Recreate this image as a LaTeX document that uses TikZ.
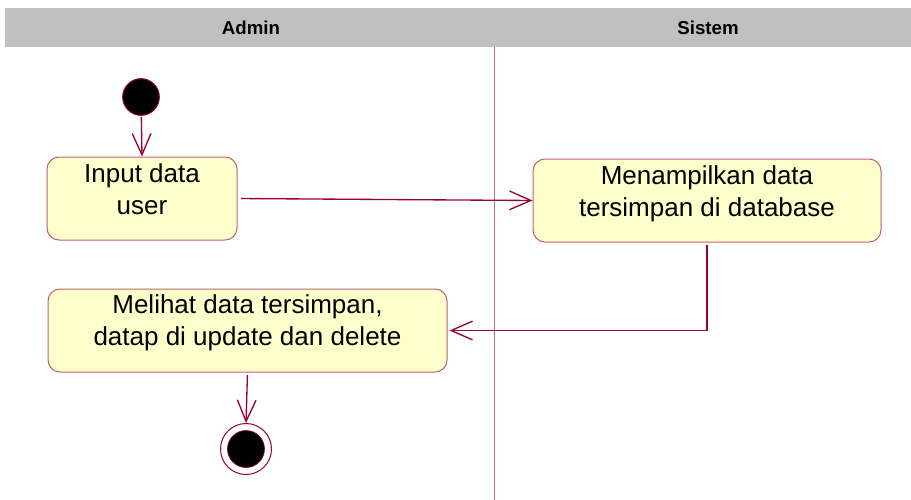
\documentclass[tikz,border=0pt]{standalone}
\usepackage{fontspec}
\setmainfont{Liberation Sans}
\usetikzlibrary{arrows.meta,fit}
\definecolor{arrowc}{RGB}{153,0,51}
\definecolor{boxline}{RGB}{192,96,118}
\definecolor{boxfill}{RGB}{255,255,204}
\definecolor{laneline}{RGB}{184,104,136}
\definecolor{headgray}{RGB}{192,192,192}
\begin{document}
\begin{tikzpicture}[x=0.75pt,y=-0.75pt,
  box/.style={draw=boxline, fill=boxfill, rounded corners=9pt, line width=0.75pt, inner sep=0pt},
  lbl/.style={font=\fontsize{19.5}{24}\selectfont, align=center, inner sep=0pt},
  flow/.style={draw=arrowc, line width=1pt, -{Straight Barb[length=16pt,width=14pt,line width=1pt]}},
  hdr/.style={font=\fontsize{14}{16}\bfseries\selectfont},
  startnode/.style={circle, draw=arrowc, fill=black, line width=0.75pt, minimum size=27.5pt, inner sep=0pt},
  endouter/.style={circle, draw=arrowc, fill=white, line width=0.75pt, minimum size=38.25pt, inner sep=0pt},
  endinner/.style={circle, draw=arrowc, fill=black, line width=0.5pt, minimum size=27.75pt, inner sep=0pt}]
\useasboundingbox (0,0) rectangle (911,500);
% header band
\fill[headgray] (5,8) rectangle (911,47);
\node[hdr] (hA) at (251,27.5) {Admin};
\node[hdr] (hS) at (708,27.5) {Sistem};
% lane divider
\coordinate (dtop) at (494,47);
\coordinate (dbot) at (494,500);
\draw[laneline, line width=0.75pt] (dtop) -- (dbot);
% nodes
\node[startnode] (init) at (141,97) {};
\node[box, fit={(47,157)(237,240)}] (b1) {};
\node[lbl] (t1) at (142,189) {Input data\\user};
\node[box, fit={(533,159)(881,242)}] (b2) {};
\node[lbl] (t2) at (707,193.5) {Menampilkan data\\tersimpan di database};
\node[box, fit={(48,289)(447,372)}] (b3) {};
\node[lbl] (t3) at (247.5,323) {Melihat data tersimpan,\\datap di update dan delete};
\node[endouter] (fin) at (246,449) {};
\node[endinner] (finin) at (fin.center) {};
% flows
\draw[flow, shorten <=1pt] (init) -- (b1.north);
\draw[flow, shorten <=2.5pt] (b1.east) -- (b2.west);
\draw[flow, shorten <=2pt, shorten >=1.5pt] (b2.south) |- (b3.east);
\draw[flow, shorten <=2pt] (b3.south) -- (fin.north);
\end{tikzpicture}
\end{document}
